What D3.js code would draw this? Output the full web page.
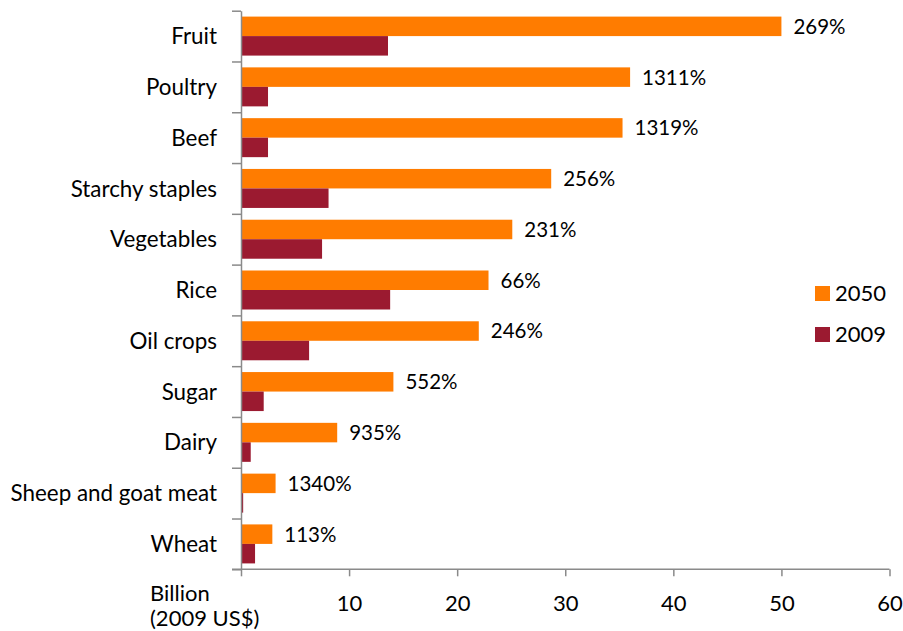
<!DOCTYPE html>
<html>
<head>
<meta charset="utf-8">
<script src="https://cdn.jsdelivr.net/npm/d3@7"></script>
<style>
  html, body { margin: 0; padding: 0; background: #fff; }
  svg { display: block; font-family: Lato, "Open Sans", sans-serif; }
</style>
</head>
<body>
<svg id="chart" width="903" height="631"></svg>
<script>
// Food categories, top to bottom
const categories = ["Fruit", "Poultry", "Beef", "Starchy staples", "Vegetables", "Rice",
  "Oil crops", "Sugar", "Dairy", "Sheep and goat meat", "Wheat"];
// Value in billion 2009 US$
const values2050 = [50.0, 36.0, 35.3, 28.7, 25.1, 22.9, 22.0, 14.1, 8.9, 3.2, 2.9];
const values2009 = [13.6, 2.5, 2.5, 8.1, 7.5, 13.8, 6.3, 2.1, 0.9, 0.2, 1.3];
// Growth from 2009 to 2050
const growthLabels = ["269%", "1311%", "1319%", "256%", "231%", "66%", "246%", "552%", "935%", "1340%", "113%"];
const seriesNames = ["2050", "2009"];
const seriesColors = ["#FF7C00", "#9B1A30"];
const xTicks = [0, 10, 20, 30, 40, 50, 60];
const xTitle = ["Billion", "(2009 US$)"];

const svg = d3.select("#chart");
const axisColor = "#8a8a8a";

const x = d3.scaleLinear().domain([0, 60]).range([241, 889.5]);
const y = d3.scaleBand().domain(categories).range([10.7, 569.3])
  .paddingInner(0.232).paddingOuter(0.116);
const ySub = d3.scaleBand().domain(seriesNames).range([0, y.bandwidth()]);
const color = d3.scaleOrdinal().domain(seriesNames).range(seriesColors);

const rows = categories.map((c, i) => ({
  category: c,
  growth: growthLabels[i],
  values: [{ s: "2050", v: values2050[i] }, { s: "2009", v: values2009[i] }]
}));

// Bars
const groups = svg.append("g").selectAll("g").data(rows).join("g")
  .attr("transform", d => `translate(0,${y(d.category)})`);
groups.selectAll("rect").data(d => d.values).join("rect")
  .attr("x", x(0))
  .attr("y", d => ySub(d.s))
  .attr("width", d => x(d.v) - x(0))
  .attr("height", ySub.bandwidth())
  .attr("fill", d => color(d.s));

// Growth labels next to the 2050 bars
groups.append("text")
  .attr("x", (d, i) => x(values2050[i]) + 12)
  .attr("y", ySub("2050") + ySub.bandwidth() / 2)
  .attr("dy", "0.36em")
  .attr("font-size", 20.5)
  .attr("fill", "#000")
  .text(d => d.growth);

// Category axis: ticks sit between categories
const yIdx = d3.scaleLinear().domain([0, categories.length]).range([10.7, 569.3]);
const yAxis = svg.append("g").attr("transform", `translate(${x(0)},0)`)
  .call(d3.axisLeft(yIdx).tickValues(d3.range(categories.length + 1)).tickSize(9).tickSizeOuter(0).tickFormat(""));
yAxis.selectAll("path, line").attr("stroke", axisColor).attr("stroke-width", 1.5);

svg.append("g").selectAll("text").data(categories).join("text")
  .attr("x", 217)
  .attr("y", d => y(d) + y.bandwidth() / 2)
  .attr("dy", "0.36em")
  .attr("text-anchor", "end")
  .attr("font-size", 22.4)
  .attr("fill", "#000")
  .text(d => d);

// Value axis
const xAxis = svg.append("g").attr("transform", `translate(0,569.3)`)
  .call(d3.axisBottom(x).tickValues(xTicks).tickSize(7).tickSizeOuter(0)
    .tickFormat(d => d === 0 ? "" : d));
xAxis.select(".domain").remove();
xAxis.selectAll("line").attr("stroke", axisColor).attr("stroke-width", 1.5);
xAxis.selectAll("text").attr("font-size", 22).attr("fill", "#000")
  .attr("font-family", "Lato, sans-serif").attr("y", 26);
svg.append("line")
  .attr("x1", 232).attr("x2", x(60))
  .attr("y1", 569.3).attr("y2", 569.3)
  .attr("stroke", axisColor).attr("stroke-width", 1.5);

svg.append("g").selectAll("text").data(xTitle).join("text")
  .attr("x", 150)
  .attr("y", (d, i) => 601 + i * 24.5)
  .attr("font-size", 22)
  .attr("fill", "#000")
  .text(d => d);

// Legend
const legend = svg.append("g").selectAll("g").data(seriesNames).join("g")
  .attr("transform", (d, i) => `translate(815,${286 + i * 41})`);
legend.append("rect").attr("width", 15).attr("height", 15).attr("fill", d => color(d));
legend.append("text").attr("x", 20).attr("y", 7.5).attr("dy", "0.36em")
  .attr("font-size", 22).attr("fill", "#000").text(d => d);
</script>
</body>
</html>
